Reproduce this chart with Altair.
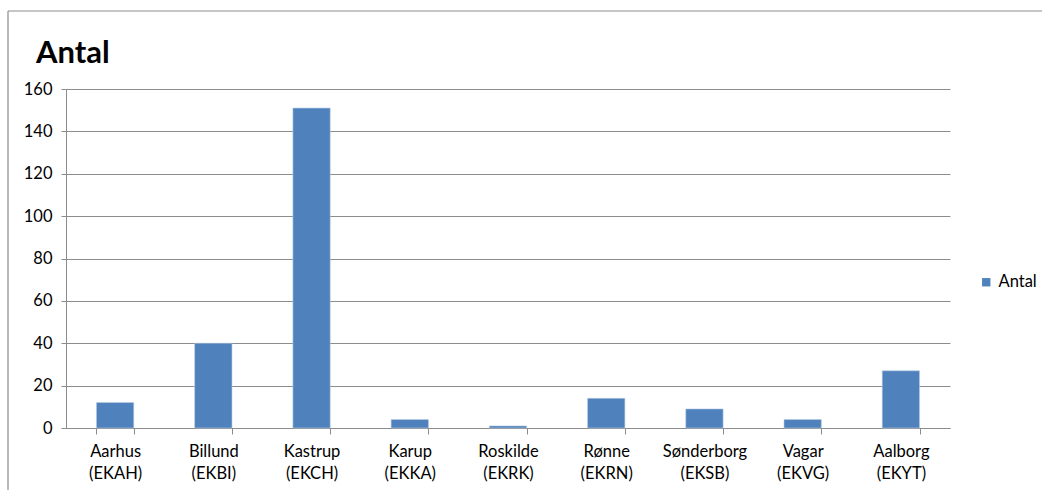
import altair as alt
import pandas as pd

# Airport categories (name | ICAO code) and counts
airports = [
    "Aarhus|(EKAH)", "Billund|(EKBI)", "Kastrup|(EKCH)", "Karup|(EKKA)",
    "Roskilde|(EKRK)", "Rønne|(EKRN)", "Sønderborg|(EKSB)", "Vagar|(EKVG)",
    "Aalborg|(EKYT)",
]
counts = [12, 40, 151, 4, 1, 14, 9, 4, 27]
series = "Antal"
y_ticks = [0, 20, 40, 60, 80, 100, 120, 140, 160]

df = pd.DataFrame({"airport": airports, "count": counts, "series": [series] * len(airports)})

FONT = "Lato"
GRID = "#8c8c8c"
LABEL_SIZE = 16.5

bars = alt.Chart(df).mark_bar(color="#4F81BD", stroke="#b9cde5", strokeWidth=0.6).encode(
    x=alt.X(
        "airport:N",
        sort=airports,
        title=None,
        scale=alt.Scale(paddingInner=0.62, paddingOuter=0.31),
        axis=alt.Axis(
            labelAngle=0,
            labelExpr="isValid(datum.value) ? split(datum.value, '|') : ''",
            labelFontSize=LABEL_SIZE,
            labelLineHeight=22,
            labelColor="#000000",
            labelFont=FONT,
            labelPadding=9,
            tickBand="extent",
            tickSize=6,
            tickColor=GRID,
            domainColor=GRID,
            grid=False,
        ),
    ),
    y=alt.Y(
        "count:Q",
        title=None,
        scale=alt.Scale(domain=[0, 160], nice=False),
        axis=alt.Axis(
            values=y_ticks,
            labelFontSize=LABEL_SIZE,
            labelColor="#000000",
            labelFont=FONT,
            labelPadding=9,
            tickSize=5,
            tickColor=GRID,
            domainColor=GRID,
            gridColor=GRID,
            grid=True,
        ),
    ),
    color=alt.Color(
        "series:N",
        scale=alt.Scale(range=["#4F81BD"]),
        legend=alt.Legend(
            title=None,
            orient="none",
            legendX=912,
            legendY=185,
            symbolType="square",
            symbolSize=70,
            symbolStrokeWidth=0,
            labelOffset=4,
            labelFontSize=LABEL_SIZE,
            labelFont=FONT,
            labelColor="#000000",
        ),
    ),
)

frame = alt.Data(values=[{}])

# Chart heading
heading = alt.Chart(frame).mark_text(
    text="Antal",
    font=FONT,
    fontSize=31,
    fontWeight="bold",
    color="#000000",
    align="left",
    baseline="alphabetic",
).encode(x=alt.value(-30), y=alt.value(-26))

# Chart-area frame (top and left edges)
top_edge = alt.Chart(frame).mark_rule(color=GRID, strokeWidth=1.2).encode(
    x=alt.value(-58), x2=alt.value(976), y=alt.value(-78)
)
left_edge = alt.Chart(frame).mark_rule(color=GRID, strokeWidth=1.2).encode(
    x=alt.value(-58), y=alt.value(-78), y2=alt.value(410)
)

chart = alt.layer(bars, heading, top_edge, left_edge).properties(
    width=884,
    height=339,
    autosize=alt.AutoSizeParams(type="none"),
    padding={"left": 66, "top": 89, "right": 93, "bottom": 62},
).configure_view(stroke=None)

chart.save("out.html", embed_options={"renderer": "svg", "actions": False})
